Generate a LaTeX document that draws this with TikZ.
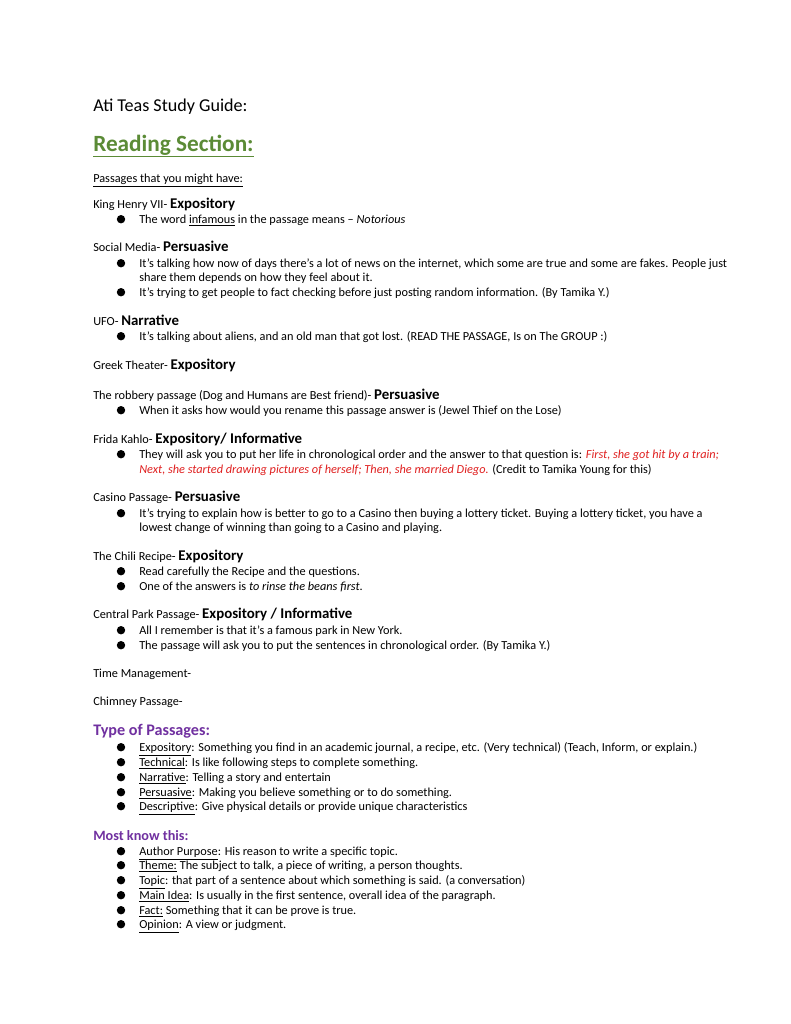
\documentclass[tikz,border=0pt]{standalone}
\usepackage{fontspec}
\setmainfont{Carlito}
\definecolor{grn}{HTML}{5B8B36}
\definecolor{pur}{HTML}{7030A0}
\definecolor{rd}{HTML}{E02020}
\newcommand\tl[3]{\node[txt] at (#2,#1) {#3};}
\newcommand\bl[2]{\fill (121,{#1-3.8}) circle (4.2); \node[txt] at (139,#1) {#2};}
\newcommand\hb[1]{{\fontsize{11.5}{13}\selectfont\bfseries #1}}
\begin{document}
\begin{tikzpicture}[x=0.7737pt,y=-0.7737pt,
  txt/.style={anchor=base west,inner sep=0pt,font=\fontsize{9.5}{11}\selectfont}]
\useasboundingbox[fill=white] (0,0) rectangle (791,1024);
\node[txt,font=\fontsize{14}{16}\selectfont] at (93,111) {Ati Teas Study Guide:};
\node[txt,font=\fontsize{18}{20}\selectfont\bfseries,text=grn] at (93,151) {\underline{Reading Section:}};
\tl{182}{93}{\underline{Passages that you might have:}}
\tl{208}{93}{King Henry VII- \hb{Expository}}
\bl{223}{The word \underline{infamous} in the passage means – \textit{Notorious}}
\tl{251}{93}{Social Media- \hb{Persuasive}}
\bl{267}{It’s talking how now of days there’s a lot of news on the internet, which some are true and some are fakes. People just}
\tl{281}{139}{share them depends on how they feel about it.}
\bl{296}{It’s trying to get people to fact checking before just posting random information. (By Tamika Y.)}
\tl{325}{93}{UFO- \hb{Narrative}}
\bl{340}{It’s talking about aliens, and an old man that got lost. (READ THE PASSAGE, Is on The GROUP :)}
\tl{369}{93}{Greek Theater- \hb{Expository}}
\tl{399}{93}{The robbery passage (Dog and Humans are Best friend)- \hb{Persuasive}}
\bl{414}{When it asks how would you rename this passage answer is (Jewel Thief on the Lose)}
\tl{443}{93}{Frida Kahlo- \hb{Expository/ Informative}}
\bl{458}{They will ask you to put her life in chronological order and the answer to that question is: \textcolor{rd}{\textit{First, she got hit by a train;}}}
\tl{473}{139}{\textcolor{rd}{\textit{Next, she started drawing pictures of herself; Then, she married Diego.}} (Credit to Tamika Young for this)}
\tl{501}{93}{Casino Passage- \hb{Persuasive}}
\bl{517}{It’s trying to explain how is better to go to a Casino then buying a lottery ticket. Buying a lottery ticket, you have a}
\tl{531}{139}{lowest change of winning than going to a Casino and playing.}
\tl{560}{93}{The Chili Recipe- \hb{Expository}}
\bl{575}{Read carefully the Recipe and the questions.}
\bl{590}{One of the answers is \textit{to rinse the beans first.}}
\tl{618}{93}{Central Park Passage- \hb{Expository / Informative}}
\bl{634}{All I remember is that it’s a famous park in New York.}
\bl{649}{The passage will ask you to put the sentences in chronological order. (By Tamika Y.)}
\tl{677}{93}{Time Management-}
\tl{705}{93}{Chimney Passage-}
\node[txt,font=\fontsize{12.5}{14}\selectfont\bfseries,text=pur] at (93,735) {Type of Passages:};
\bl{751}{\underline{Expository}: Something you find in an academic journal, a recipe, etc. (Very technical) (Teach, Inform, or explain.)}
\bl{766}{\underline{Technical}: Is like following steps to complete something.}
\bl{781}{\underline{Narrative}: Telling a story and entertain}
\bl{796}{\underline{Persuasive}: Making you believe something or to do something.}
\bl{810}{\underline{Descriptive}: Give physical details or provide unique characteristics}
\node[txt,font=\fontsize{11}{13}\selectfont\bfseries,text=pur] at (93,840) {Most know this:};
\bl{855}{\underline{Author Purpose}: His reason to write a specific topic.}
\bl{869}{\underline{Theme:} The subject to talk, a piece of writing, a person thoughts.}
\bl{884}{\underline{Topic}: that part of a sentence about which something is said. (a conversation)}
\bl{899}{\underline{Main Idea}: Is usually in the first sentence, overall idea of the paragraph.}
\bl{914}{\underline{Fact:} Something that it can be prove is true.}
\bl{928}{\underline{Opinion}: A view or judgment.}
\end{tikzpicture}
\end{document}
